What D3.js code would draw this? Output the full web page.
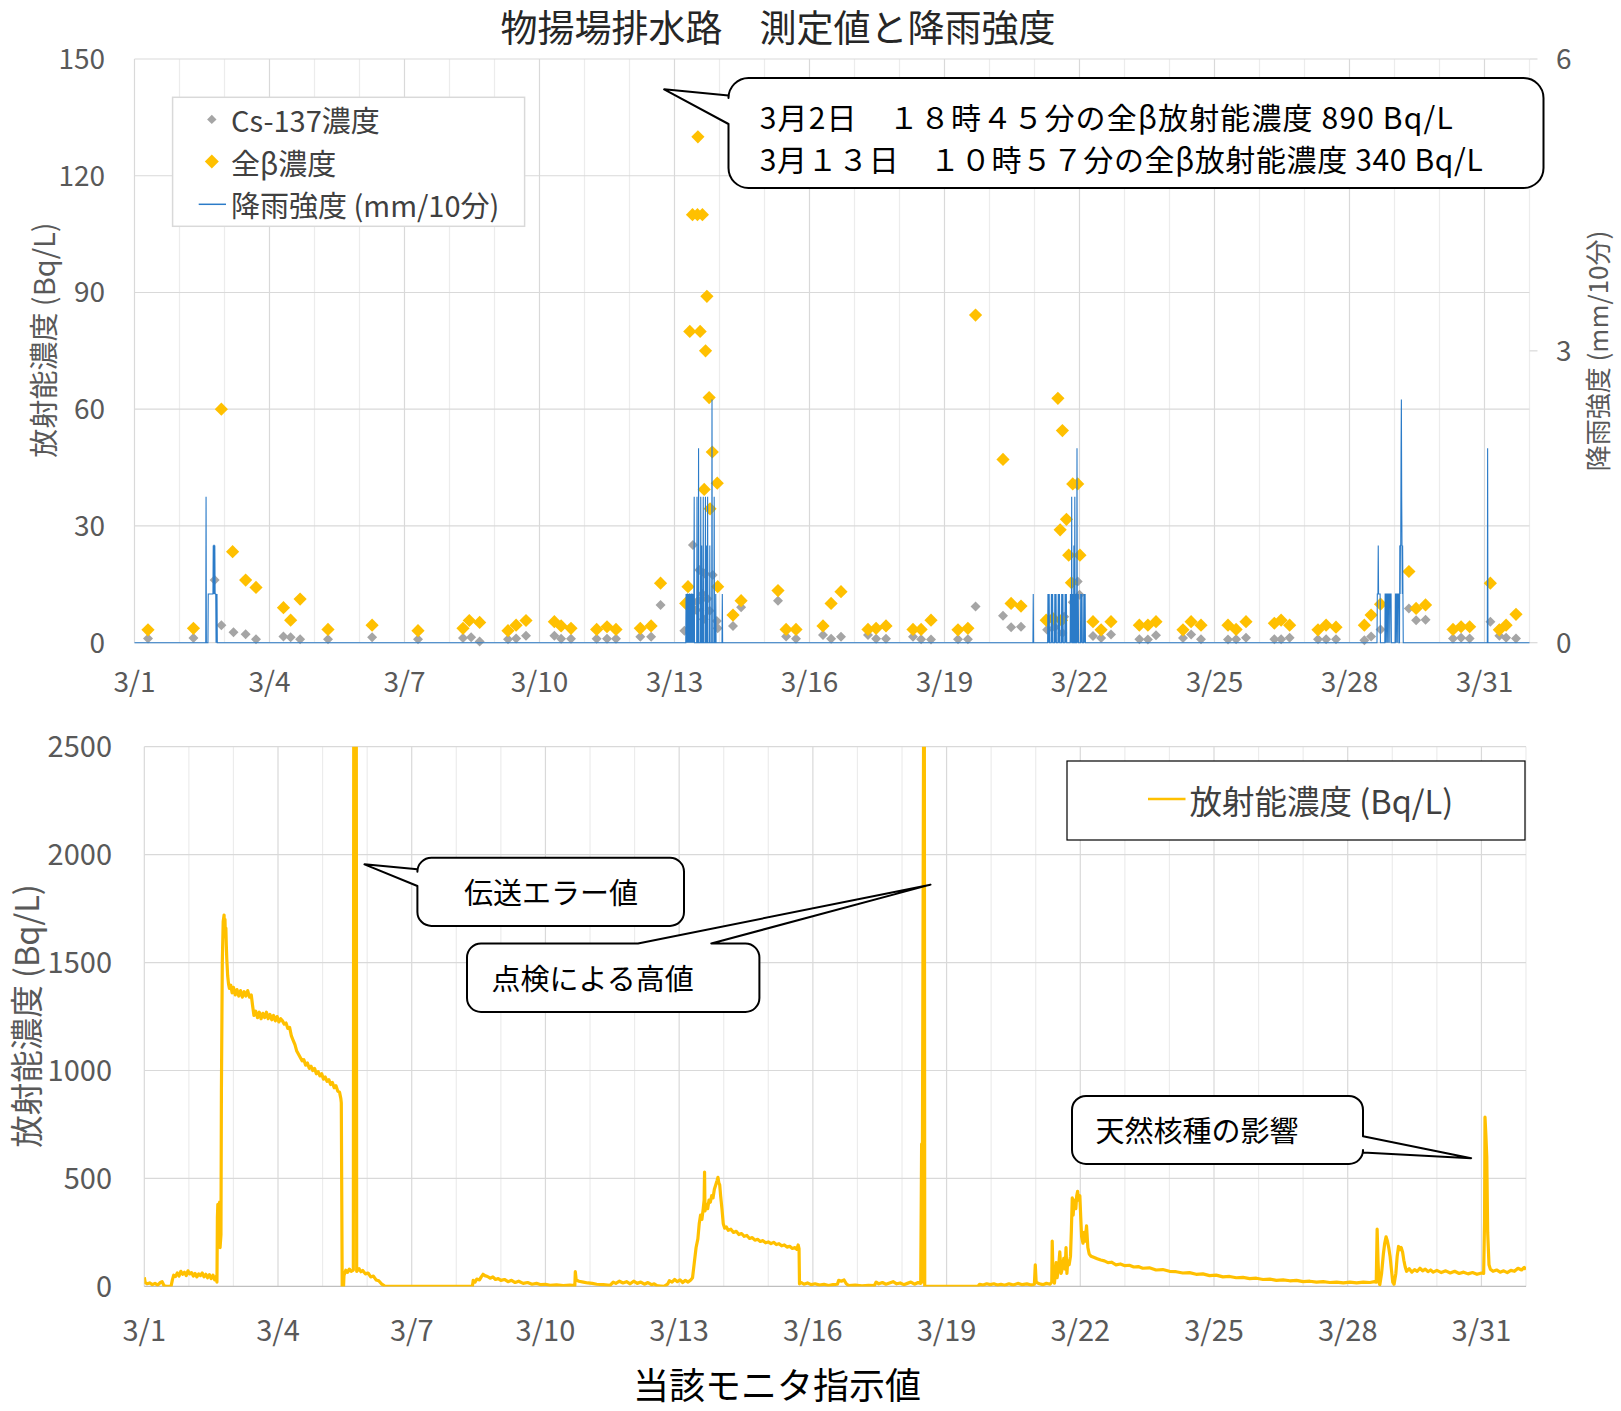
<!DOCTYPE html>
<html>
<head>
<meta charset="utf-8">
<script src="https://cdn.jsdelivr.net/npm/d3@7"></script>
<style>
  body { margin: 0; background: #fff; }
  text { font-family: "Noto Sans CJK JP", "Noto Sans", sans-serif; }
</style>
</head>
<body>
<svg id="chart" width="1621" height="1411"></svg>
<script>
// ---- data (day = days since 3/1 00:00) ----
const dayLabels = ["3/1", "3/4", "3/7", "3/10", "3/13", "3/16", "3/19", "3/22", "3/25", "3/28", "3/31"];
const dayLabelDays = [0, 3, 6, 9, 12, 15, 18, 21, 24, 27, 30];
const concTicks = [0, 30, 60, 90, 120, 150];
const rainTicks = [0, 3, 6];
const monitorTicks = [0, 500, 1000, 1500, 2000, 2500];

// Cs-137 concentration (Bq/L)
const cs137 = [
  [0.30, 1.1], [1.31, 1.2], [1.78, 16.1], [1.93, 4.5], [2.20, 2.7], [2.47, 2.2], [2.70, 0.9],
  [3.31, 1.6], [3.47, 1.4], [3.68, 0.9], [4.30, 0.9], [5.28, 1.4], [6.30, 0.9], [7.30, 1.2],
  [7.48, 1.4], [7.67, 0.3], [8.30, 0.9], [8.48, 1.1], [8.70, 1.8], [9.33, 1.8], [9.48, 1.0],
  [9.70, 1.0], [10.27, 1.0], [10.50, 1.0], [10.70, 1.0], [11.24, 1.5], [11.48, 1.5], [11.69, 9.7],
  [12.22, 3.1], [12.41, 25.1], [12.48, 8.4], [12.50, 10.5], [12.55, 18.7], [12.59, 11.0],
  [12.62, 12.5], [12.65, 6.0], [12.67, 17.8], [12.73, 11.3], [12.78, 8.2], [12.85, 17.4],
  [12.94, 5.6], [12.96, 3.7], [13.30, 4.3], [13.48, 9.1], [14.30, 10.8], [14.48, 1.6], [14.70, 1.0],
  [15.30, 2.0], [15.48, 1.0], [15.70, 1.5], [16.30, 2.0], [16.48, 1.0], [16.70, 1.0], [17.30, 1.5],
  [17.48, 0.9], [17.70, 0.8], [18.30, 0.9], [18.52, 0.9], [18.69, 9.3], [19.30, 6.9], [19.48, 4.0],
  [19.70, 4.1], [20.28, 3.3], [20.45, 4.0], [20.62, 2.5], [20.66, 6.7], [20.85, 10.4], [20.96, 15.7],
  [21.00, 12.3], [21.30, 1.7], [21.48, 1.2], [21.70, 2.1], [22.33, 0.9], [22.52, 0.8], [22.70, 1.9],
  [23.30, 1.2], [23.48, 2.1], [23.70, 0.9], [24.30, 0.8], [24.48, 0.9], [24.70, 1.3], [25.33, 0.9],
  [25.48, 0.9], [25.67, 1.3], [26.30, 0.9], [26.48, 0.9], [26.70, 0.9], [27.33, 0.6], [27.48, 1.6],
  [27.69, 3.4], [28.32, 8.8], [28.48, 5.8], [28.69, 5.9], [29.30, 1.1], [29.48, 1.3], [29.67, 1.1],
  [30.13, 5.4], [30.33, 1.8], [30.48, 1.3], [30.70, 1.1]
];

// gross beta concentration (Bq/L)
const grossBeta = [
  [0.30, 3.3], [1.31, 3.7], [1.93, 60], [2.18, 23.4], [2.47, 16.1], [2.70, 14.2], [3.31, 9.0],
  [3.47, 5.8], [3.68, 11.2], [4.30, 3.4], [5.28, 4.5], [6.30, 3.1], [7.30, 3.7], [7.44, 5.7],
  [7.67, 5.2], [8.30, 3.1], [8.48, 4.5], [8.70, 5.7], [9.33, 5.4], [9.48, 4.3], [9.70, 3.7],
  [10.27, 3.4], [10.50, 4.1], [10.70, 3.4], [11.24, 3.7], [11.48, 4.3], [11.69, 15.3], [12.25, 10.1],
  [12.30, 14.4], [12.34, 80], [12.40, 110], [12.51, 110], [12.52, 130], [12.57, 80], [12.62, 110],
  [12.66, 39.4], [12.69, 75], [12.72, 89], [12.77, 63], [12.79, 34.4], [12.84, 49], [12.95, 41],
  [12.96, 14.4], [13.30, 7.1], [13.48, 10.8], [14.30, 13.4], [14.48, 3.4], [14.70, 3.4], [15.30, 4.3],
  [15.48, 10.1], [15.70, 13.1], [16.30, 3.4], [16.48, 3.7], [16.70, 4.3], [17.30, 3.4], [17.48, 3.4],
  [17.70, 5.8], [18.30, 3.3], [18.52, 3.7], [18.69, 84.2], [19.30, 47.1], [19.48, 10.1], [19.70, 9.4],
  [20.26, 5.8], [20.41, 6.2], [20.52, 62.8], [20.57, 29.0], [20.60, 5.8], [20.62, 54.5], [20.71, 31.7],
  [20.76, 22.5], [20.82, 15.4], [20.85, 40.8], [20.96, 40.8], [21.01, 22.5], [21.30, 5.4], [21.48, 3.3],
  [21.70, 5.4], [22.33, 4.5], [22.52, 4.5], [22.70, 5.4], [23.30, 3.3], [23.48, 5.4], [23.70, 4.5],
  [24.30, 4.5], [24.48, 3.4], [24.70, 5.4], [25.33, 5.0], [25.48, 5.8], [25.67, 4.5], [26.30, 3.3],
  [26.48, 4.5], [26.70, 4.0], [27.33, 4.5], [27.48, 7.1], [27.69, 9.9], [28.32, 18.3], [28.48, 8.8],
  [28.69, 9.7], [29.30, 3.4], [29.48, 4.1], [29.67, 4.1], [30.13, 15.3], [30.33, 3.3], [30.48, 4.5],
  [30.70, 7.3]
];

// rainfall (mm/10min): [start day, consecutive 10-minute values]; all other intervals had no rain
const rainRuns = [
  [1.59, [1.5]],
  [1.64, [0.5, 0.5, 0.5, 0.5, 0.5, 0.5, 0.5, 0.5, 0.5, 0.5, 0.5, 0.5, 0.5, 0.5, 0.5, 0.5, 1, 0.5, 1, 1, 0.5, 1, 0.5, 0.5, 0.5, 0, 0.5, 0, 0.5]],
  [12.26, [0.5, 0, 0.5, 0, 0.5, 0.5, 0, 0.5, 0, 0.5, 0, 0.5, 0.5, 0, 0.5, 0, 0.5, 0, 0.5, 0.5, 0, 0.5, 0, 0.5, 0, 0.5,
           1.5, 0, 0, 0, 0, 0, 0, 0, 0,
           1.5, 0, 0, 0, 0,
           2, 0, 0, 0, 0, 0, 0,
           1.5, 0, 0,
           1, 0, 0, 0, 0,
           1.5, 0, 0, 0, 0, 0, 0,
           1.5, 0, 0, 0,
           1, 0, 0,
           1.5, 0, 0, 0, 0, 0, 0,
           1, 0, 0, 0, 0, 0, 0,
           2.5, 0, 0, 0, 0, 0, 0,
           1.5, 0, 0, 0, 0,
           0.5, 0]],
  [13.06, [0.5]],
  [19.97, [0.5]],
  [20.30, [0.5, 0, 0.5, 0, 0.5, 0, 0, 0, 0, 0, 0,
           0.5, 0, 0.5, 0, 0.5, 0, 0, 0, 0, 0, 0,
           0.5, 0, 0.5, 0, 0.5, 0, 0, 0, 0, 0, 0,
           0.5, 0, 0.5, 0, 0.5, 0, 0, 0, 0, 0, 0,
           0.5, 0, 0.5, 0, 0.5, 0, 0, 0, 0, 0, 0,
           0.5, 0, 0.5, 0, 0.5, 0, 0, 0, 0, 0, 0]],
  [20.80, [0.5, 0, 0.5, 0, 1.5, 0, 0, 0, 0.5, 0, 0, 1, 0, 0, 1.5, 0, 0, 0, 0.5, 0, 0, 2, 0, 0.5, 0, 0.5, 0]],
  [21.03, [0.5, 0, 0.5, 0, 0.5, 0, 0, 0, 0, 0, 0.5, 0, 0.5, 0, 0.5]],
  [27.62, [0.5, 0.5, 0.5, 1, 0.5, 0.5, 0.5, 0.5, 0.5, 0.5]],
  [27.79, [0.5, 0.5, 0, 0.5, 0.5, 0.5, 0, 0.5, 0.5, 0.5, 0, 0.5, 0.5, 0.5, 0.5, 0, 0.5, 0.5, 0.5, 0.5]],
  [28.02, [0.5, 0.5, 0, 0.5, 0.5, 0.5, 0, 0.5, 0.5, 0.5, 0.5]],
  [28.12, [1, 0.5, 1, 1, 2, 2.5, 1.5, 1, 0.5, 1, 0.5]],
  [30.07, [2]]
];

// monitor reading (Bq/L); spikes above 2500 run off the top of the panel
const monitor = [
  [0.00, 42], [0.02, 18], [0.06, 12], [0.12, 16], [0.18, 8], [0.24, 14], [0.30, 6], [0.36, 18], [0.40, 22],
  [0.44, 4], [0.50, 0], [0.60, 0], [0.63, 30], [0.66, 52], [0.70, 46], [0.74, 62], [0.78, 48], [0.82, 70],
  [0.86, 56], [0.90, 66], [0.94, 50], [0.98, 72], [1.02, 58], [1.06, 64], [1.10, 48], [1.14, 60], [1.18, 44],
  [1.22, 58], [1.26, 50], [1.30, 62], [1.34, 44], [1.38, 56], [1.42, 40], [1.46, 54], [1.50, 36], [1.54, 52],
  [1.58, 30], [1.62, 48], [1.63, 20], [1.64, 320], [1.65, 380], [1.67, 340], [1.69, 390], [1.70, 180],
  [1.72, 240], [1.73, 900], [1.75, 1500], [1.77, 1690], [1.79, 1720], [1.80, 1640], [1.81, 1700], [1.82, 1620],
  [1.83, 1660], [1.84, 1580], [1.85, 1520], [1.87, 1440], [1.89, 1400], [1.91, 1380], [1.94, 1395], [1.97, 1360],
  [2.00, 1385], [2.04, 1350], [2.08, 1375], [2.12, 1345], [2.16, 1370], [2.20, 1340], [2.24, 1365], [2.28, 1345],
  [2.32, 1370], [2.36, 1340], [2.40, 1350], [2.43, 1300], [2.46, 1255], [2.50, 1275], [2.54, 1245], [2.58, 1270],
  [2.62, 1240], [2.66, 1265], [2.70, 1245], [2.74, 1270], [2.78, 1240], [2.82, 1260], [2.86, 1235], [2.90, 1255],
  [2.94, 1230], [2.98, 1250], [3.02, 1225], [3.06, 1240], [3.10, 1230], [3.14, 1215], [3.18, 1220], [3.22, 1195],
  [3.26, 1200], [3.30, 1160], [3.34, 1140], [3.38, 1120], [3.42, 1090], [3.46, 1075], [3.50, 1060], [3.54, 1045],
  [3.58, 1050], [3.62, 1025], [3.66, 1035], [3.70, 1010], [3.74, 1020], [3.78, 1000], [3.82, 1010], [3.86, 985],
  [3.90, 995], [3.94, 975], [3.98, 985], [4.02, 960], [4.06, 970], [4.10, 950], [4.14, 958], [4.18, 935],
  [4.22, 945], [4.26, 920], [4.30, 930], [4.34, 905], [4.38, 900], [4.41, 870], [4.42, 850], [4.44, 0],
  [4.47, 0], [4.48, 50], [4.52, 75], [4.56, 65], [4.60, 80], [4.64, 70], [4.69, 76], [4.70, 3000], [4.755, 3000],
  [4.765, 70], [4.82, 82], [4.86, 68], [4.90, 74], [4.96, 58], [5.02, 62], [5.08, 44], [5.14, 48], [5.20, 30],
  [5.26, 26], [5.32, 12], [5.38, 4], [5.40, 0], [7.36, 0], [7.38, 28], [7.42, 20], [7.46, 34], [7.52, 30],
  [7.56, 44], [7.60, 56], [7.64, 50], [7.70, 46], [7.76, 38], [7.82, 44], [7.88, 32], [7.94, 36], [8.00, 28],
  [8.08, 32], [8.16, 22], [8.24, 28], [8.32, 18], [8.40, 24], [8.50, 14], [8.60, 18], [8.70, 10], [8.80, 14],
  [8.90, 8], [9.00, 10], [9.10, 5], [9.25, 7], [9.40, 4], [9.55, 6], [9.66, 4], [9.67, 68], [9.69, 30],
  [9.75, 24], [9.85, 20], [9.95, 16], [10.05, 14], [10.15, 10], [10.30, 8], [10.45, 5], [10.52, 20],
  [10.58, 14], [10.66, 24], [10.74, 16], [10.82, 22], [10.90, 12], [10.98, 24], [11.06, 14], [11.14, 20],
  [11.22, 10], [11.30, 18], [11.38, 8], [11.44, 12], [11.50, 4], [11.58, 2], [11.66, 0], [11.74, 10],
  [11.78, 26], [11.84, 20], [11.90, 32], [11.96, 22], [12.02, 30], [12.08, 18], [12.14, 28], [12.20, 20],
  [12.26, 30], [12.30, 40], [12.34, 110], [12.38, 180], [12.42, 220], [12.45, 290], [12.48, 330], [12.51, 310],
  [12.54, 360], [12.56, 400], [12.57, 530], [12.58, 350], [12.61, 380], [12.64, 360], [12.67, 400], [12.70, 390],
  [12.73, 420], [12.76, 410], [12.79, 450], [12.82, 470], [12.85, 490], [12.87, 505], [12.89, 480], [12.91, 470],
  [12.93, 420], [12.96, 360], [12.99, 290], [13.02, 270], [13.06, 275], [13.10, 260], [13.16, 265], [13.22, 250],
  [13.28, 255], [13.34, 240], [13.40, 245], [13.46, 232], [13.52, 236], [13.58, 222], [13.64, 226], [13.70, 214],
  [13.76, 218], [13.82, 208], [13.88, 212], [13.94, 202], [14.00, 206], [14.06, 198], [14.12, 204], [14.18, 194],
  [14.24, 198], [14.30, 188], [14.36, 192], [14.42, 182], [14.48, 186], [14.54, 176], [14.60, 180], [14.64, 172],
  [14.67, 192], [14.69, 175], [14.70, 12], [14.74, 18], [14.80, 10], [14.88, 16], [14.96, 8], [15.05, 12],
  [15.15, 6], [15.25, 10], [15.35, 4], [15.45, 8], [15.55, 10], [15.58, 28], [15.64, 24], [15.70, 30],
  [15.75, 12], [15.80, 4], [15.95, 6], [16.10, 3], [16.25, 5], [16.38, 4], [16.42, 20], [16.48, 12],
  [16.56, 18], [16.64, 10], [16.72, 16], [16.80, 22], [16.88, 12], [16.96, 16], [17.04, 8], [17.12, 14],
  [17.20, 20], [17.28, 10], [17.36, 18], [17.42, 14], [17.44, 660], [17.45, 20], [17.49, 3000], [17.50, 3000],
  [17.51, 0], [18.70, 0], [18.74, 10], [18.82, 6], [18.90, 12], [18.98, 8], [19.06, 12], [19.14, 6],
  [19.22, 10], [19.30, 5], [19.40, 12], [19.50, 6], [19.60, 14], [19.70, 8], [19.80, 12], [19.90, 6],
  [19.97, 10], [19.99, 100], [20.01, 20], [20.08, 12], [20.16, 8], [20.24, 14], [20.32, 10], [20.36, 20],
  [20.37, 210], [20.39, 40], [20.42, 15], [20.44, 60], [20.46, 110], [20.48, 40], [20.51, 80], [20.54, 160],
  [20.57, 60], [20.60, 85], [20.63, 130], [20.66, 80], [20.68, 180], [20.70, 60], [20.72, 120], [20.75, 100],
  [20.78, 140], [20.80, 260], [20.82, 410], [20.84, 330], [20.86, 400], [20.88, 380], [20.90, 360],
  [20.92, 420], [20.94, 440], [20.96, 400], [20.99, 420], [21.01, 320], [21.03, 230], [21.06, 200],
  [21.09, 250], [21.11, 210], [21.14, 280], [21.17, 180], [21.20, 150], [21.24, 140], [21.30, 135],
  [21.38, 128], [21.46, 122], [21.54, 118], [21.62, 110], [21.70, 112], [21.80, 100], [21.90, 104],
  [22.00, 96], [22.10, 98], [22.20, 90], [22.30, 92], [22.40, 84], [22.55, 86], [22.70, 76], [22.85, 78],
  [23.00, 70], [23.15, 68], [23.30, 62], [23.45, 64], [23.60, 56], [23.75, 58], [23.90, 50], [24.05, 52],
  [24.20, 44], [24.35, 46], [24.50, 40], [24.65, 42], [24.80, 36], [24.95, 38], [25.10, 32], [25.25, 34],
  [25.40, 28], [25.55, 30], [25.70, 26], [25.85, 28], [26.00, 22], [26.15, 24], [26.30, 20], [26.45, 22],
  [26.60, 18], [26.75, 20], [26.90, 16], [27.05, 20], [27.20, 16], [27.35, 20], [27.50, 18], [27.60, 22],
  [27.64, 20], [27.66, 265], [27.68, 120], [27.70, 20], [27.72, 8], [27.76, 60], [27.80, 150], [27.83, 200],
  [27.86, 230], [27.89, 210], [27.92, 180], [27.95, 140], [27.98, 80], [28.01, 20], [28.04, 10], [28.08, 60],
  [28.11, 140], [28.14, 185], [28.17, 170], [28.20, 180], [28.23, 160], [28.26, 120], [28.29, 90], [28.32, 70],
  [28.38, 82], [28.44, 66], [28.50, 78], [28.56, 70], [28.62, 84], [28.68, 72], [28.74, 80], [28.80, 68],
  [28.86, 76], [28.92, 66], [29.00, 74], [29.10, 64], [29.20, 72], [29.30, 62], [29.40, 70], [29.50, 60],
  [29.60, 66], [29.70, 58], [29.80, 64], [29.90, 56], [30.00, 62], [30.05, 60], [30.07, 300], [30.08, 784],
  [30.10, 700], [30.12, 600], [30.14, 250], [30.17, 100], [30.20, 80], [30.26, 70], [30.34, 76], [30.42, 66],
  [30.50, 72], [30.58, 64], [30.66, 74], [30.74, 70], [30.82, 84], [30.90, 76], [30.96, 88], [31.00, 78]
];

// ---- drawing ----
const svg = d3.select("#chart");
const W = 1621, H = 1411;
const GOLD = "#FFC000", GREY = "#A5A5A5", BLUE = "#2B7BC8";
const TICK = "#595959", GRID = "#d9d9d9", MINOR = "#ececec";

svg.append("rect").attr("width", W).attr("height", H).attr("fill", "#fff");

const diamond = s => `M0,${-s}L${s},0L0,${s}L${-s},0Z`;

// rounded box with a pointer wedge on one side
function callout(g, b, side, a1, a2, tip) {
  const { x, y, w, h, r } = b;
  const p = d3.path();
  p.moveTo(x + r, y);
  if (side === "top") { p.lineTo(a1, y); p.lineTo(tip[0], tip[1]); p.lineTo(a2, y); }
  p.lineTo(x + w - r, y);
  p.arcTo(x + w, y, x + w, y + r, r);
  if (side === "right") { p.lineTo(x + w, a1); p.lineTo(tip[0], tip[1]); p.lineTo(x + w, a2); }
  p.lineTo(x + w, y + h - r);
  p.arcTo(x + w, y + h, x + w - r, y + h, r);
  p.lineTo(x + r, y + h);
  p.arcTo(x, y + h, x, y + h - r, r);
  if (side === "left") { p.lineTo(x, a1); p.lineTo(tip[0], tip[1]); p.lineTo(x, a2); }
  p.lineTo(x, y + r);
  p.arcTo(x, y, x + r, y, r);
  p.closePath();
  g.append("path").attr("d", p.toString()).attr("fill", "#fff")
    .attr("stroke", "#000").attr("stroke-width", 2).attr("stroke-linejoin", "round");
}

function dayGrid(g, x, y0, y1) {
  d3.range(0, 32).forEach(d => {
    g.append("line").attr("x1", x(d)).attr("x2", x(d)).attr("y1", y0).attr("y2", y1)
      .attr("stroke", d % 3 === 0 ? GRID : MINOR).attr("stroke-width", 1.2);
  });
}

// ===== top panel =====
const xT = d3.scaleLinear().domain([0, 31]).range([134.5, 1529.5]);
const yT = d3.scaleLinear().domain([0, 150]).range([642.7, 59]);
const yR = d3.scaleLinear().domain([0, 6]).range([642.7, 59]);

svg.append("text").attr("x", 778).attr("y", 42).attr("text-anchor", "middle")
  .attr("font-size", 37).attr("fill", "#262626").text("物揚場排水路　測定値と降雨強度");

const gT = svg.append("g");
dayGrid(gT, xT, yT(150), yT(0));
concTicks.forEach(v => {
  gT.append("line").attr("x1", xT(0)).attr("x2", xT(31)).attr("y1", yT(v)).attr("y2", yT(v))
    .attr("stroke", GRID).attr("stroke-width", 1.2);
  gT.append("text").attr("x", 105).attr("y", yT(v)).attr("dy", "0.35em").attr("text-anchor", "end")
    .attr("font-size", 28).attr("fill", TICK).text(v);
});
rainTicks.forEach(v => {
  gT.append("line").attr("x1", xT(31)).attr("x2", xT(31) + 8).attr("y1", yR(v)).attr("y2", yR(v))
    .attr("stroke", GRID).attr("stroke-width", 1.2);
  gT.append("text").attr("x", 1556).attr("y", yR(v)).attr("dy", "0.35em")
    .attr("font-size", 28).attr("fill", TICK).text(v);
});
dayLabels.forEach((lab, i) => {
  gT.append("text").attr("x", xT(dayLabelDays[i])).attr("y", 692).attr("text-anchor", "middle")
    .attr("font-size", 28).attr("fill", TICK).text(lab);
});
gT.append("text").attr("transform", "translate(42,340) rotate(-90)").attr("text-anchor", "middle")
  .attr("dominant-baseline", "central").attr("font-size", 29).attr("fill", TICK).text("放射能濃度 (Bq/L)");
gT.append("text").attr("transform", "translate(1596,351) rotate(-90)").attr("text-anchor", "middle")
  .attr("dominant-baseline", "central").attr("font-size", 26).attr("fill", TICK).text("降雨強度 (mm/10分)");

// markers
gT.append("g").selectAll("path").data(cs137).join("path")
  .attr("d", diamond(5)).attr("fill", GREY)
  .attr("transform", d => `translate(${xT(d[0])},${yT(d[1])})`);
gT.append("g").selectAll("path").data(grossBeta).join("path")
  .attr("d", diamond(6.6)).attr("fill", GOLD)
  .attr("transform", d => `translate(${xT(d[0])},${yT(d[1])})`);

// rainfall on 10-minute steps, intervals without rain are 0
const steps = 31 * 144;
const rainVals = new Array(steps + 1).fill(0);
rainRuns.forEach(([start, vals]) => {
  const i0 = Math.round(start * 144);
  vals.forEach((v, k) => { rainVals[i0 + k] = v; });
});
const rainSeries = rainVals.map((v, i) => [i / 144, v]);
gT.append("path").datum(rainSeries)
  .attr("d", d3.line().x(d => xT(d[0])).y(d => yR(d[1])))
  .attr("fill", "none").attr("stroke", BLUE).attr("stroke-width", 1.1);

// legend
const lgT = gT.append("g");
lgT.append("rect").attr("x", 172.6).attr("y", 97.3).attr("width", 352).attr("height", 129)
  .attr("fill", "#fff").attr("stroke", GRID).attr("stroke-width", 1.5);
lgT.append("path").attr("d", diamond(4.7)).attr("fill", GREY).attr("transform", "translate(211.8,119.4)");
lgT.append("path").attr("d", diamond(7)).attr("fill", GOLD).attr("transform", "translate(211.8,161.6)");
lgT.append("line").attr("x1", 198.7).attr("x2", 226).attr("y1", 204.3).attr("y2", 204.3)
  .attr("stroke", BLUE).attr("stroke-width", 1.5);
[["Cs-137濃度", 119.4], ["全β濃度", 161.6], ["降雨強度 (mm/10分)", 204.3]].forEach(([t, yy]) => {
  lgT.append("text").attr("x", 231).attr("y", yy).attr("dominant-baseline", "central")
    .attr("font-size", 29).attr("fill", "#404040").text(t);
});

// annotation
callout(gT, { x: 728.5, y: 78, w: 815, h: 110, r: 20 }, "left", 124, 95.5, [xT(11.77), yT(142.2)]);
gT.append("text").attr("x", 759.7).attr("y", 116).attr("dominant-baseline", "central")
  .attr("textLength", 693).attr("lengthAdjust", "spacing")
  .attr("font-size", 30).attr("fill", "#000").text("3月2日　１８時４５分の全β放射能濃度 890 Bq/L");
gT.append("text").attr("x", 759.7).attr("y", 157.7).attr("dominant-baseline", "central")
  .attr("textLength", 723).attr("lengthAdjust", "spacing")
  .attr("font-size", 30).attr("fill", "#000").text("3月１３日　１０時５７分の全β放射能濃度 340 Bq/L");

// ===== bottom panel =====
const xB = d3.scaleLinear().domain([0, 31]).range([144.3, 1526]);
const yB = d3.scaleLinear().domain([0, 2500]).range([1286.4, 746.7]);
const gB = svg.append("g");
dayGrid(gB, xB, yB(2500), yB(0));
monitorTicks.forEach(v => {
  gB.append("line").attr("x1", xB(0)).attr("x2", xB(31)).attr("y1", yB(v)).attr("y2", yB(v))
    .attr("stroke", v === 0 ? "#bfbfbf" : GRID).attr("stroke-width", 1.2);
  gB.append("text").attr("x", 112).attr("y", yB(v)).attr("dy", "0.35em").attr("text-anchor", "end")
    .attr("font-size", 29).attr("fill", TICK).text(v);
});
dayLabels.forEach((lab, i) => {
  gB.append("text").attr("x", xB(dayLabelDays[i])).attr("y", 1341).attr("text-anchor", "middle")
    .attr("font-size", 29).attr("fill", TICK).text(lab);
});
gB.append("text").attr("transform", "translate(24,1016) rotate(-90)").attr("text-anchor", "middle")
  .attr("dominant-baseline", "central").attr("font-size", 32.5).attr("fill", TICK).text("放射能濃度 (Bq/L)");
gB.append("text").attr("x", 777).attr("y", 1399).attr("text-anchor", "middle")
  .attr("font-size", 36).attr("fill", "#000").text("当該モニタ指示値");

svg.append("clipPath").attr("id", "clipB").append("rect")
  .attr("x", xB(0)).attr("y", yB(2500)).attr("width", xB(31) - xB(0)).attr("height", yB(0) - yB(2500));
gB.append("path").datum(monitor).attr("clip-path", "url(#clipB)")
  .attr("d", d3.line().x(d => xB(d[0])).y(d => yB(d[1])))
  .attr("fill", "none").attr("stroke", GOLD).attr("stroke-width", 3.2).attr("stroke-linejoin", "round");

// legend
gB.append("rect").attr("x", 1067).attr("y", 761).attr("width", 458).attr("height", 79)
  .attr("fill", "#fff").attr("stroke", "#000").attr("stroke-width", 1.2);
gB.append("line").attr("x1", 1148).attr("x2", 1185.5).attr("y1", 799).attr("y2", 799)
  .attr("stroke", GOLD).attr("stroke-width", 2.5);
gB.append("text").attr("x", 1189.6).attr("y", 799).attr("dominant-baseline", "central")
  .attr("font-size", 32.5).attr("fill", "#404040").text("放射能濃度 (Bq/L)");

// callouts
callout(gB, { x: 417.4, y: 857.8, w: 266.6, h: 68.1, r: 14 }, "left", 886, 869.2, [xB(4.94), yB(1955)]);
gB.append("text").attr("x", 551).attr("y", 891).attr("text-anchor", "middle").attr("dominant-baseline", "central")
  .attr("font-size", 29).attr("fill", "#000").text("伝送エラー値");
callout(gB, { x: 467, y: 943.5, w: 292.4, h: 68.5, r: 14 }, "top", 638, 711.3, [xB(17.64), yB(1861)]);
gB.append("text").attr("x", 491.6).attr("y", 977).attr("dominant-baseline", "central")
  .attr("font-size", 29).attr("fill", "#000").text("点検による高値");
callout(gB, { x: 1072, y: 1095.9, w: 291, h: 68.1, r: 14 }, "right", 1136.3, 1152.6, [xB(29.77), yB(594)]);
gB.append("text").attr("x", 1095.5).attr("y", 1129).attr("dominant-baseline", "central")
  .attr("font-size", 29).attr("fill", "#000").text("天然核種の影響");
</script>
</body>
</html>
